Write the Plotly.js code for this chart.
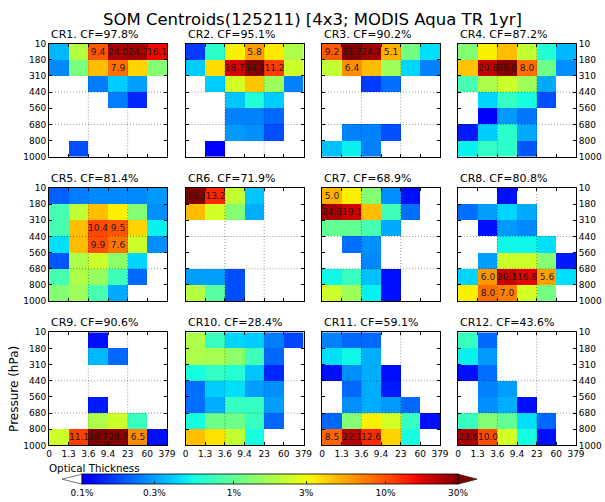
<!DOCTYPE html>
<html><head><meta charset="utf-8">
<script src="https://cdn.plot.ly/plotly-3.0.1.min.js"></script>
<style>body{margin:0;background:#fff}#chart{width:605px;height:502px}</style>
</head><body><div id="chart"></div>
<script>
const N = null;
const tauLabels = ['0','1.3','3.6','9.4','23','60','379'];
const presLabels = ['10','180','310','440','560','680','800','1000'];
const cfValues = [97.8, 95.1, 90.2, 87.2, 81.4, 71.9, 68.9, 80.8, 90.6, 28.4, 59.1, 43.6];
const cbTickValues = [0.1, 0.3, 1, 3, 10, 30];
const cbTickLabels = ['0.1%','0.3%','1%','3%','10%','30%'];
const labelThreshold = 5;

const cr1 = [
[0.35,1.9,9.4,24.0,24.7,16.1],
[0.26,1.2,4.6,7.9,4.0,1.3],
[N,N,0.24,0.4,0.3,N],
[N,N,N,0.24,0.14,N],
[N,N,N,N,N,N],
[N,N,N,N,N,N],
[N,0.18,N,N,N,N]];
const cr2 = [
[0.16,0.65,3.3,5.8,3.5,1.8],
[0.4,3.8,18.7,34.1,11.2,2.3],
[N,0.4,2.4,4.4,1.6,0.25],
[N,N,0.38,0.6,0.4,N],
[N,N,0.25,0.25,0.21,N],
[N,N,0.29,0.27,0.18,N],
[N,0.105,N,N,N,N]];
const cr3 = [
[9.2,31.7,24.7,5.1,1.15,0.45],
[2.1,6.4,4.7,1.6,0.42,0.25],
[N,N,0.16,0.22,N,N],
[N,N,N,N,N,N],
[N,N,N,N,N,N],
[N,0.25,0.25,0.18,N,N],
[0.37,0.5,0.25,N,N,N]];
const cr4 = [
[1.3,3.3,4.7,2.1,0.6,0.35],
[4.5,20.8,29.0,8.0,1.1,0.27],
[0.8,1.8,2.3,1.6,0.32,N],
[N,0.42,0.7,0.55,0.18,N],
[N,0.11,0.29,0.23,N,N],
[0.13,0.4,0.65,0.32,N,N],
[0.5,0.7,0.65,0.19,N,N]];
const cr5 = [
[0.2,0.24,0.26,0.26,0.26,0.29],
[0.8,2.1,4.6,3.3,1.3,0.27],
[0.8,4.6,10.4,9.5,4.0,0.5],
[0.45,4.7,9.9,7.6,2.3,0.27],
[0.19,1.8,2.3,1.4,0.42,N],
[0.8,1.8,1.5,0.75,0.21,N],
[1.3,1.6,0.8,0.32,N,N]];
const cr6 = [
[43.3,13.2,2.1,0.38,N,N],
[4.7,2.4,1.3,0.33,N,N],
[N,N,N,N,N,N],
[N,N,N,N,N,N],
[N,N,N,N,N,N],
[0.3,0.3,0.18,N,N,N],
[1.9,0.9,0.18,N,N,N]];
const cr7 = [
[5.0,3.3,1.3,0.27,0.12,N],
[24.3,19.1,4.7,0.75,0.22,N],
[1.0,1.0,0.8,0.32,N,N],
[N,0.22,0.27,N,N,N],
[N,N,0.26,N,N,N],
[0.52,0.72,0.37,0.12,N,N],
[2.3,1.6,0.5,0.12,N,N]];
const cr8 = [
[N,N,0.12,N,N,N],
[0.22,0.3,0.42,0.32,N,N],
[N,0.12,0.29,0.26,N,N],
[N,N,0.52,0.52,0.45,N],
[N,0.3,2.3,2.3,1.3,0.13],
[0.42,6.0,20.1,16.8,5.6,0.45],
[3.3,8.0,7.0,2.4,1.15,N]];
const cr9 = [
[N,N,0.12,N,N,N],
[N,N,0.35,0.21,N,N],
[N,N,N,N,N,N],
[N,N,N,N,N,N],
[N,N,0.13,N,N,N],
[N,N,1.8,2.3,0.72,N],
[2.3,11.1,36.7,28.7,6.5,0.12]];
const cr10 = [
[1.8,0.72,0.42,0.4,0.24,0.17],
[1.8,1.7,1.4,0.75,0.21,N],
[0.55,0.7,0.62,0.38,0.14,N],
[0.22,0.4,0.45,0.3,0.27,N],
[0.22,0.33,0.7,0.7,0.3,N],
[0.55,1.1,1.1,0.72,0.21,N],
[4.6,3.6,2.1,0.55,N,N]];
const cr11 = [
[0.25,0.21,0.21,N,N,N],
[0.45,0.52,0.33,N,N,N],
[0.12,0.27,0.33,0.12,N,N],
[N,0.21,0.33,0.13,N,N],
[N,0.27,0.33,0.29,0.21,N],
[0.21,1.3,3.3,2.4,0.72,0.12],
[8.5,22.1,12.6,4.0,0.55,N]];
const cr12 = [
[0.72,0.21,N,N,N,N],
[0.5,0.29,N,N,N,N],
[0.12,0.22,N,N,N,N],
[N,0.25,0.3,N,N,N],
[N,0.27,0.33,0.12,N,N],
[0.72,1.3,1.0,0.45,0.21,N],
[23.6,10.0,2.4,0.55,0.12,N]];

const panels = [cr1,cr2,cr3,cr4,cr5,cr6,cr7,cr8,cr9,cr10,cr11,cr12];

// jet colormap (from blue to dark red)
const jet = [
[0,'rgb(0,0,255)'],[0.0169,'rgb(0,0,255)'],[0.2584,'rgb(0,219,255)'],
[0.2697,'rgb(0,230,247)'],[0.2978,'rgb(21,255,226)'],[0.5955,'rgb(238,255,8)'],
[0.6067,'rgb(247,246,0)'],[0.618,'rgb(255,236,0)'],[0.8764,'rgb(255,19,0)'],
[0.8989,'rgb(232,0,0)'],[1,'rgb(128,0,0)']];

const W = 605, H = 502;
const FONT = 'DejaVu Sans, Liberation Sans, sans-serif';
const zmin = Math.log10(0.1), zmax = Math.log10(30);
const colX = [49, 185.5, 322, 458];
const rowTop = [44, 189.5, 335];
const pw = 118, ph = 114;

const data = [];
const layout = {
  width: W, height: H,
  margin: {l:0, r:0, t:0, b:0},
  paper_bgcolor: '#fff', plot_bgcolor: '#fff',
  showlegend: false,
  font: {family: FONT, color: '#000'},
  annotations: [], shapes: []
};

const xi = [0,1,2,3,4,5];
const yi = [0,1,2,3,4,5,6];
const xticks = [-0.5,0.5,1.5,2.5,3.5,4.5,5.5];
const yticks = [-0.5,0.5,1.5,2.5,3.5,4.5,5.5,6.5];

panels.forEach((vals, i) => {
  const n = i + 1;
  const row = Math.floor(i / 4), col = i % 4;
  const sfx = n === 1 ? '' : String(n);
  const z = vals.map(r => r.map(v => v == null ? null : Math.log10(v)));
  const txt = vals.map(r => r.map(v => (v != null && v >= labelThreshold) ? v.toFixed(1) : ''));
  const tr = {
    type: 'heatmap', x: xi, y: yi, z: z, text: txt,
    texttemplate: '%{text}',
    textfont: {family: FONT, size: 9, color: '#1a1a1a'},
    colorscale: jet, zmin: zmin, zmax: zmax,
    xaxis: 'x' + sfx, yaxis: 'y' + sfx,
    hoverinfo: 'skip', showscale: i === 0
  };
  if (i === 0) {
    tr.colorbar = {
      orientation: 'h', x: 82/W, xanchor: 'left', y: 1 - 478/H, yanchor: 'top',
      len: 376, lenmode: 'pixels', thickness: 10, thicknessmode: 'pixels',
      xpad: 0, ypad: 0, outlinewidth: 0.8, outlinecolor: '#000',
      tickvals: cbTickValues.map(v => Math.log10(v)), ticktext: cbTickLabels,
      ticks: 'inside', ticklen: 3, tickcolor: '#333',
      tickfont: {family: FONT, size: 9, color: '#000'}
    };
  }
  data.push(tr);
  const x0 = colX[col], y0 = rowTop[row];
  layout['xaxis' + sfx] = {
    domain: [x0/W, (x0+pw)/W], anchor: 'y' + sfx,
    range: [-0.5, 5.5], tickmode: 'array', tickvals: xticks, ticktext: tauLabels,
    showticklabels: row === 2, ticks: 'inside', ticklen: 3, tickcolor: '#000',
    showline: true, linecolor: '#000', linewidth: 1, mirror: 'ticks',
    showgrid: false, zeroline: false, fixedrange: true,
    tickfont: {family: FONT, size: 9, color: '#000'}
  };
  layout['yaxis' + sfx] = {
    domain: [1-(y0+ph)/H, 1-y0/H], anchor: 'x' + sfx,
    range: [6.5, -0.5], tickmode: 'array', tickvals: yticks, ticktext: presLabels,
    showticklabels: col === 0 || col === 3, side: col === 3 ? 'right' : 'left',
    ticks: 'inside', ticklen: 3, tickcolor: '#000',
    showline: true, linecolor: '#000', linewidth: 1, mirror: 'ticks',
    showgrid: false, zeroline: false, fixedrange: true,
    tickfont: {family: FONT, size: 9, color: '#000'}
  };
  // dotted grid lines at 3.6, 23 (tau) and 440, 680 hPa
  const gl = {color:'rgba(0,0,0,0.5)', width:0.8, dash:'1px,2px'};
  [1.5, 3.5].forEach(gx => layout.shapes.push({type:'line', xref:'x'+sfx, yref:'y'+sfx,
    x0: gx, x1: gx, y0: -0.5, y1: 6.5, layer:'above', line: gl}));
  [2.5, 4.5].forEach(gy => layout.shapes.push({type:'line', xref:'x'+sfx, yref:'y'+sfx,
    x0: -0.5, x1: 5.5, y0: gy, y1: gy, layer:'above', line: gl}));
  layout.annotations.push({
    text: 'CR' + n + '. CF=' + cfValues[i].toFixed(1) + '%',
    xref: 'paper', yref: 'paper', x: x0/W, y: 1 - (y0-1)/H,
    xanchor: 'left', yanchor: 'bottom', showarrow: false,
    font: {family: FONT, size: 11, color: '#000'}
  });
});

layout.annotations.push({
  text: 'SOM Centroids(125211) [4x3; MODIS Aqua TR 1yr]',
  xref:'paper', yref:'paper', x: 312/W, y: 1 - 20/H, xanchor:'center', yanchor:'middle',
  showarrow:false, font:{family: FONT, size: 16.5, color:'#000'}
});
layout.annotations.push({
  text: 'Pressure (hPa)', textangle: -90,
  xref:'paper', yref:'paper', x: 14/W, y: 1 - 392/H, xanchor:'center', yanchor:'middle',
  showarrow:false, font:{family: FONT, size: 12, color:'#000'}
});
layout.annotations.push({
  text: 'Optical Thickness',
  xref:'paper', yref:'paper', x: 47/W, y: 1 - 472/H, xanchor:'left', yanchor:'middle',
  showarrow:false, font:{family: FONT, size: 10.3, color:'#000'}
});

// colorbar extension triangles
function px(x, y) { return (x/W).toFixed(5) + ',' + (1 - y/H).toFixed(5); }
layout.shapes.push({type:'path', xref:'paper', yref:'paper',
  path: 'M' + px(82,478) + ' L' + px(62,483) + ' L' + px(82,488) + ' Z',
  fillcolor:'#fff', line:{color:'#555', width:0.8}});
layout.shapes.push({type:'path', xref:'paper', yref:'paper',
  path: 'M' + px(458,478) + ' L' + px(477,483) + ' L' + px(458,488) + ' Z',
  fillcolor:'rgb(128,0,0)', line:{color:'#222', width:0.8}});

Plotly.newPlot('chart', data, layout, {displayModeBar: false, staticPlot: true});
</script>
</body></html>
